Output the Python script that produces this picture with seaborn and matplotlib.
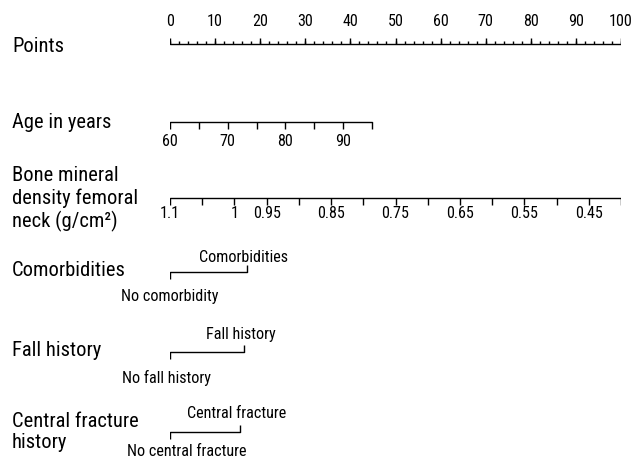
import matplotlib
matplotlib.use("Agg")
import numpy as np
import pandas as pd
import matplotlib.pyplot as plt
import seaborn as sns
from matplotlib import font_manager

# ───────────── data ─────────────
points_major = [0, 10, 20, 30, 40, 50, 60, 70, 80, 90, 100]
points_minor_step = 2

age_values = [60, 65, 70, 75, 80, 85, 90, 95]
age_labels = [60, 70, 80, 90]
age_points_max = 44.8          # points at age 95 (age 60 -> 0)

bmd_values = [1.1, 1.05, 1.0, 0.95, 0.9, 0.85, 0.8, 0.75, 0.7,
              0.65, 0.6, 0.55, 0.5, 0.45, 0.4]
bmd_labels = ["1.1", "1", "0.95", "0.85", "0.75", "0.65", "0.55", "0.45"]
bmd_points_max = 100.0         # points at 0.4 g/cm2 (1.1 -> 0)

comorb_levels = ["No comorbidity", "Comorbidities"]
comorb_points = [0, 17.1]
fall_levels = ["No fall history", "Fall history"]
fall_points = [0, 16.4]
fract_levels = ["No central fracture", "Central fracture"]
fract_points = [0, 15.5]

row_names = ["Points", "Age in years", "Bone mineral\ndensity femoral\nneck (g/cm²)",
             "Comorbidities", "Fall history", "Central fracture\nhistory"]

# ───────────── style ─────────────
sns.set_style("white")
ttf = font_manager.fontManager.ttflist
avail = {f.name for f in ttf}
narrow_names = ["Liberation Sans Narrow", "DejaVu Sans Condensed", "Roboto Condensed",
                "Open Sans Condensed", "Noto Sans Condensed", "Arial Narrow"]
stretch = "normal"
fam = [n for n in narrow_names if n in avail]
if not fam:
    cond = [f for f in ttf if f.stretch in ("condensed", "semi-condensed", "extra-condensed")
            and f.style == "normal"]
    if cond:
        fam = [cond[0].name]
        stretch = cond[0].stretch
    else:
        fam = ["Roboto"] if "Roboto" in avail else ["DejaVu Sans"]
plt.rcParams["font.family"] = fam + ["DejaVu Sans"]
plt.rcParams["font.stretch"] = stretch
narrow = fam[0] not in ("Roboto", "DejaVu Sans")

W, H = 641, 463
PX = 451 / 100             # pixels per point on the Points scale
fig = plt.figure(figsize=(W / 100, H / 100), dpi=100)
ax = fig.add_axes([170 / W, 0, 451 / W, 1])
ax.set_xlim(0, 100)
ax.set_ylim(H, 0)          # y in pixel rows, top down
ax.axis("off")

LW = 1.0
COL = "black"
FS_ROW = 14.8 if narrow else 13
FS_TICK = 11.6 if narrow else 9.5


def baseline(x0, x1, y):
    df = pd.DataFrame({"x": [x0, x1], "y": [y, y]})
    sns.lineplot(data=df, x="x", y="y", ax=ax, color=COL, lw=LW,
                 estimator=None, sort=False)


def linear_axis(values, vmin_pts, vmax_pts, y, tick_len):
    vals = np.asarray(values, dtype=float)
    pts = vmin_pts + (vals - vals[0]) / (vals[-1] - vals[0]) * (vmax_pts - vmin_pts)
    baseline(pts[0], pts[-1], y)
    ax.vlines(pts, y, y + tick_len, color=COL, lw=LW)
    return dict(zip(values, pts))


def txt(x, y, s, **kw):
    ax.text(x, y, s, ha="center", va="center", fontsize=FS_TICK, color=COL, **kw)


# Points row (ticks upward, labels above)
minor = np.arange(0, 101, points_minor_step)
baseline(0, 100, 44)
ax.vlines(minor, 44, 44 - 3, color=COL, lw=LW)
ax.vlines(points_major, 44, 44 - 6.5, color=COL, lw=LW)
for p in points_major:
    txt(p, 22, str(p))

# Age row
age_map = linear_axis(age_values, 0, age_points_max, 122, 6.5)
for a in age_labels:
    txt(age_map[a], 142, str(a))

# BMD row
bmd_map = linear_axis(bmd_values, 0, bmd_points_max, 198, 6.5)
for lab in bmd_labels:
    txt(bmd_map[float(lab)], 214, lab)


# Binary rows: left tick down, right tick up
def binary_row(levels, pts, y, y_up, y_dn, dn_shift_px=0.0, up_shift_px=-3.5):
    baseline(pts[0], pts[1], y)
    ax.vlines(pts[0], y, y + 7, color=COL, lw=LW)
    ax.vlines(pts[1], y, y - 7, color=COL, lw=LW)
    txt(pts[0] + dn_shift_px / PX, y_dn, levels[0])
    txt(pts[1] + up_shift_px / PX, y_up, levels[1])


binary_row(comorb_levels, comorb_points, 272, 257, 297)
binary_row(fall_levels, fall_points, 352, 335, 378, dn_shift_px=-3)
# lower label nudged right so it clears the row name "history"
binary_row(fract_levels, fract_points, 432, 413, 452, dn_shift_px=17)

# Row labels
row_y = [46, 122, 199, 270, 351, 432]
for name, y in zip(row_names, row_y):
    fig.text(12 / W, 1 - y / H, name, ha="left", va="center", color=COL,
             fontsize=FS_ROW, linespacing=1.18)

fig.savefig("out.png", dpi=100)
